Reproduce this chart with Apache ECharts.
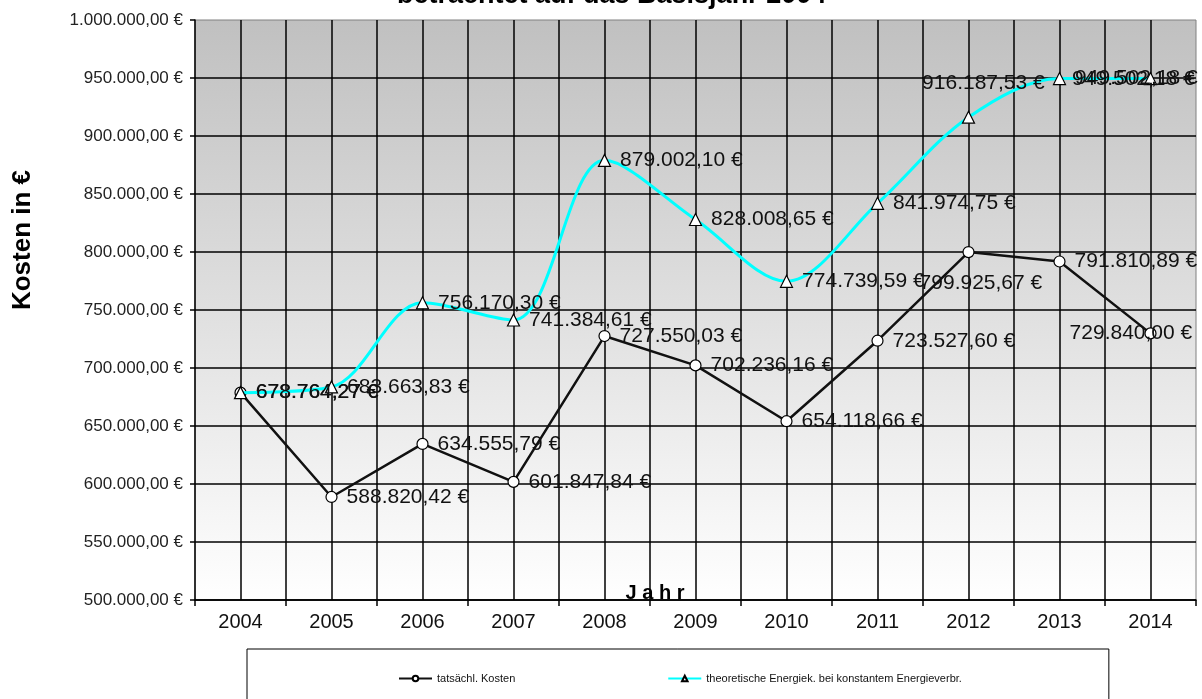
<!DOCTYPE html>
<html>
<head>
<meta charset="utf-8">
<title>Kosten in €</title>
<script src="https://cdn.jsdelivr.net/npm/echarts@6/dist/echarts.min.js"></script>
<style>
html, body { margin: 0; padding: 0; background: #fff; }
#chart { width: 1202px; height: 699px; }
</style>
</head>
<body>
<div id="chart"></div>
<script>
// Werte aus der Grafik
const years = ['2004', '2005', '2006', '2007', '2008', '2009', '2010', '2011', '2012', '2013', '2014']
const actualCosts = [678764.27, 588820.42, 634555.79, 601847.84, 727550.03, 702236.16, 654118.66, 723527.60, 799925.67, 791810.89, 729840.00]
const theoreticCosts = [678764.27, 683663.83, 756170.30, 741384.61, 879002.10, 828008.65, 774739.59, 841974.75, 916187.53, 949502.18, 949502.18]
const seriesNames = ['tatsächl. Kosten', 'theoretische Energiek. bei konstantem Energieverbr.']
const yMin = 500000
const yMax = 1000000
const yStep = 50000

// 1234567.8 -> "1.234.567,80 €"
function euro(v) {
  const parts = Number(v).toFixed(2).split('.')
  return parts[0].replace(/\B(?=(\d{3})+(?!\d))/g, '.') + ',' + parts[1] + ' €'
}

// manually moved labels (like in the original sheet)
const labelShift = {
  actual: { 8: [-64, 31], 10: [-96, 0] },
  theoretic: { 8: [-62, -34], 10: [-94, 1] }
}

function buildData(values, shifts) {
  return values.map((v, i) => {
    const item = { value: v }
    if (shifts[i]) {
      item.label = { offset: shifts[i] }
    }
    return item
  })
}

const font = 'Liberation Sans, Arial, sans-serif'

const chart = echarts.init(document.getElementById('chart'))
chart.setOption({
  animation: false,
  textStyle: { fontFamily: font },
  title: {
    text: 'betrachtet auf das Basisjahr 2004',
    left: 397,
    top: -18,
    padding: 0,
    textStyle: { fontSize: 27, fontWeight: 'bold', color: '#000', fontFamily: font }
  },
  graphic: [
    {
      type: 'text',
      x: 23,
      y: 240,
      rotation: Math.PI / 2,
      style: {
        text: 'Kosten in €',
        font: 'bold 26px ' + font,
        fill: '#000',
        align: 'center',
        verticalAlign: 'middle'
      }
    },
    {
      type: 'text',
      x: 655,
      y: 593,
      z: 100,
      style: {
        text: 'J a h r',
        font: 'bold 20px ' + font,
        fill: '#000',
        align: 'center',
        verticalAlign: 'middle'
      }
    }
  ],
  legend: {
    data: seriesNames,
    left: 247,
    top: 649,
    padding: [24, 147, 40, 151],
    itemGap: 152,
    itemWidth: 33,
    itemHeight: 7,
    borderColor: '#000',
    borderWidth: 1,
    selectedMode: false,
    textStyle: { fontSize: 11, color: '#111', fontFamily: font }
  },
  grid: {
    left: 195,
    right: 6,
    top: 20,
    bottom: 99,
    show: true,
    borderColor: '#808080',
    borderWidth: 1,
    backgroundColor: {
      type: 'linear', x: 0, y: 0, x2: 0, y2: 1,
      colorStops: [
        { offset: 0, color: '#c0c0c0' },
        { offset: 1, color: '#ffffff' }
      ]
    }
  },
  xAxis: [
    {
      type: 'category',
      data: years,
      boundaryGap: true,
      axisLine: { lineStyle: { color: '#000', width: 1.5 } },
      axisTick: { show: true, length: 6, lineStyle: { color: '#000', width: 1.5 } },
      axisLabel: { fontSize: 20, color: '#111', margin: 12 },
      splitLine: { show: false }
    },
    {
      // nur für die senkrechten Gitterlinien (halbe Kategorien)
      type: 'value',
      min: 0,
      max: years.length * 2,
      interval: 1,
      axisLine: { show: false },
      axisTick: { show: false },
      axisLabel: { show: false },
      splitLine: {
        show: true,
        showMinLine: false,
        showMaxLine: false,
        lineStyle: { color: '#000', width: 1.5 }
      }
    }
  ],
  yAxis: {
    type: 'value',
    min: yMin,
    max: yMax,
    interval: yStep,
    axisLine: { show: true, lineStyle: { color: '#000', width: 1.5 } },
    axisTick: { show: true, length: 5, lineStyle: { color: '#000', width: 1.5 } },
    axisLabel: { fontSize: 17, color: '#222', margin: 12, formatter: euro },
    splitLine: {
      show: true,
      showMaxLine: false,
      lineStyle: { color: '#000', width: 1.5 }
    }
  },
  series: [
    {
      name: seriesNames[0],
      type: 'line',
      data: buildData(actualCosts, labelShift.actual),
      symbol: 'circle',
      symbolSize: 11,
      itemStyle: { color: '#fff', borderColor: '#000', borderWidth: 1.2 },
      lineStyle: { color: '#111', width: 2.5 },
      label: {
        show: true,
        position: 'right',
        distance: 9,
        fontSize: 21,
        color: '#111',
        formatter: p => euro(p.value)
      },
      z: 3
    },
    {
      name: seriesNames[1],
      type: 'line',
      data: buildData(theoreticCosts, labelShift.theoretic),
      smooth: 0.33,
      symbol: 'triangle',
      symbolSize: 12,
      itemStyle: { color: '#fff', borderColor: '#000', borderWidth: 1.2 },
      lineStyle: { color: '#00ffff', width: 3 },
      label: {
        show: true,
        position: 'right',
        distance: 9,
        fontSize: 21,
        color: '#111',
        formatter: p => euro(p.value)
      },
      z: 4
    }
  ]
})
</script>
</body>
</html>
